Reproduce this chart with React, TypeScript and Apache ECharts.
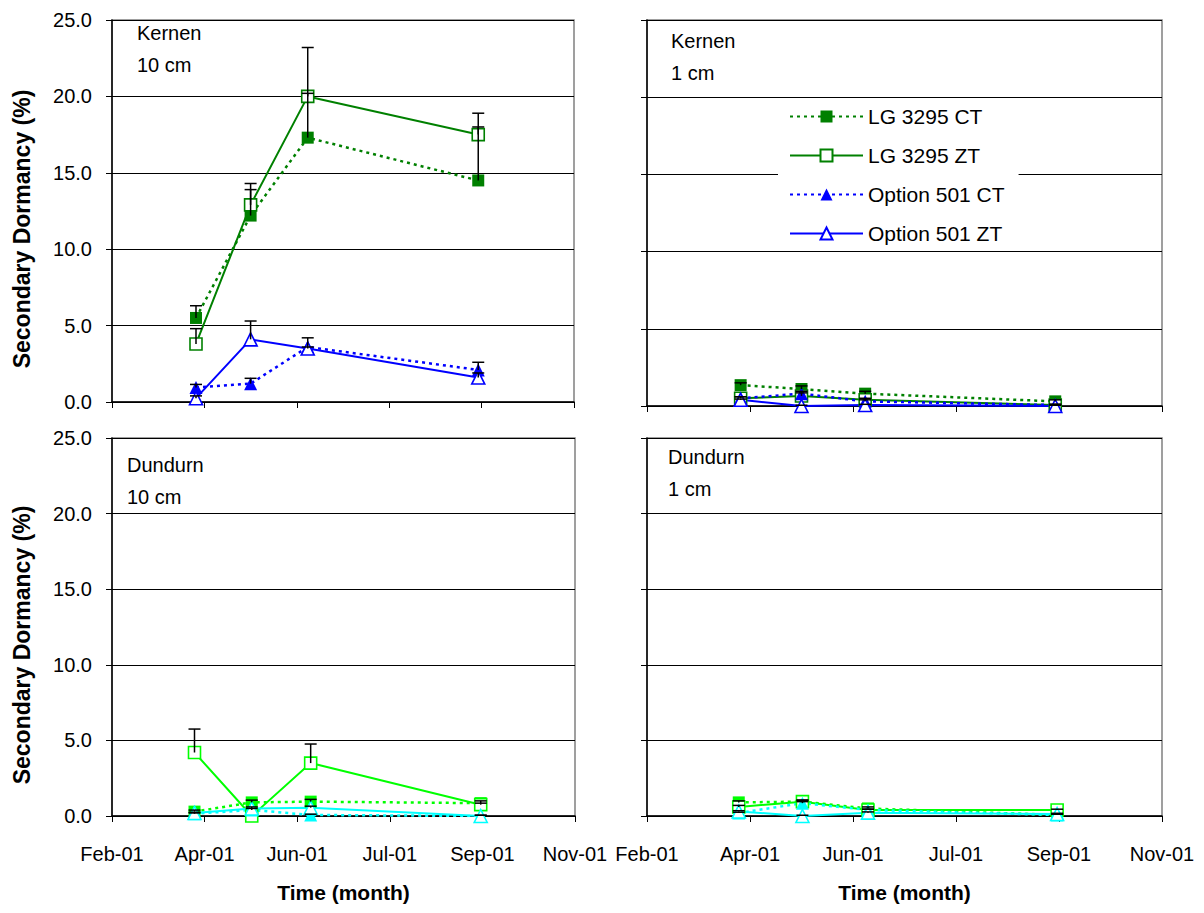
import React, { useEffect, useRef } from "react";
import * as echarts from "echarts";

// ---- axis labels ----
const xTickLabels = ["Feb-01", "Apr-01", "Jun-01", "Jul-01", "Sep-01", "Nov-01"];
const xTickStepDays = 55; // days between labelled ticks (axis starts mid-Feb 2001)
const yMax = 25;
const yStep = 5;

const seriesNames = ["LG 3295 CT", "LG 3295 ZT", "Option 501 CT", "Option 501 ZT"];

// sampling dates, days after axis start
const kernenDays = [50, 82.5, 116.5, 218];
const dundurnDays = [49, 83, 118, 219];

// ---- Kernen 10 cm ----
const k10LgCt = [5.5, 12.2, 17.3, 14.5];
const k10LgZt = [3.8, 12.9, 20.0, 17.5];
const k10OptCt = [0.95, 1.2, 3.6, 2.1];
const k10OptZt = [0.25, 4.1, 3.5, 1.6];
const k10LgCtErr = [0.8, 1.7, 2.9, 3.5];
const k10LgZtErr = [1.0, 1.4, 3.2, 1.4];
const k10OptCtErr = [0.2, 0.35, 0.6, 0.5];
const k10OptZtErr = [0.15, 1.2, 0.1, 0.3];

// ---- Kernen 1 cm ----
const k1LgCt = [1.35, 1.1, 0.8, 0.3];
const k1LgZt = [0.5, 0.65, 0.4, 0.06];
const k1OptCt = [0.5, 0.8, 0.3, 0.06];
const k1OptZt = [0.4, 0.0, 0.06, 0.0];
const k1LgCtErr = [0.15, 0.2, 0.15, 0.1];
const k1LgZtErr = [0.1, 0.2, 0.1, 0.05];
const k1OptCtErr = [0.1, 0.15, 0.1, 0.05];
const k1OptZtErr = [0.05, 0.05, 0.05, 0.05];

// ---- Dundurn 10 cm ----
const d10LgCt = [0.29, 0.9, 0.95, 0.85];
const d10LgZt = [4.2, 0.0, 3.5, 0.75];
const d10OptCt = [0.15, 0.4, 0.07, 0.0];
const d10OptZt = [0.2, 0.5, 0.55, 0.0];
const d10LgCtErr = [0.1, 0.15, 0.15, 0.15];
const d10LgZtErr = [1.55, 0.0, 1.26, 0.1];
const d10OptCtErr = [0.05, 0.1, 0.05, 0.05];
const d10OptZtErr = [0.05, 0.1, 0.1, 0.05];

// ---- Dundurn 1 cm ----
const d1LgCt = [0.9, 0.95, 0.5, 0.07];
const d1LgZt = [0.6, 0.95, 0.4, 0.4];
const d1OptCt = [0.2, 0.85, 0.4, 0.07];
const d1OptZt = [0.3, 0.0, 0.22, 0.13];
const d1LgCtErr = [0.1, 0.1, 0.1, 0.05];
const d1LgZtErr = [0.1, 0.1, 0.05, 0.05];
const d1OptCtErr = [0.05, 0.1, 0.05, 0.05];
const d1OptZtErr = [0.05, 0.05, 0.05, 0.05];

const FONT = "'Liberation Sans', Arial, Helvetica, sans-serif";

type Panel = {
  grid: { left: number; top: number; width: number; height: number };
  days: number[];
  values: number[][];
  errors: number[][];
  colors: string[];
  site: string;
  depth: string;
  textPos: [number, number, number];
  showYLabels: boolean;
  showXLabels: boolean;
};

const topColors = ["#008000", "#008000", "#0000FF", "#0000FF"];
const bottomColors = ["#00FF00", "#00FF00", "#00FFFF", "#00FFFF"];

const panels: Panel[] = [
  {
    grid: { left: 112, top: 20, width: 462, height: 382 },
    days: kernenDays,
    values: [k10LgCt, k10LgZt, k10OptCt, k10OptZt],
    errors: [k10LgCtErr, k10LgZtErr, k10OptCtErr, k10OptZtErr],
    colors: topColors,
    site: "Kernen",
    depth: "10 cm",
    textPos: [137, 33, 65],
    showYLabels: true,
    showXLabels: false,
  },
  {
    grid: { left: 647, top: 20, width: 515, height: 386 },
    days: kernenDays,
    values: [k1LgCt, k1LgZt, k1OptCt, k1OptZt],
    errors: [k1LgCtErr, k1LgZtErr, k1OptCtErr, k1OptZtErr],
    colors: topColors,
    site: "Kernen",
    depth: "1 cm",
    textPos: [671, 41, 73],
    showYLabels: false,
    showXLabels: false,
  },
  {
    grid: { left: 112, top: 438, width: 463, height: 378 },
    days: dundurnDays,
    values: [d10LgCt, d10LgZt, d10OptCt, d10OptZt],
    errors: [d10LgCtErr, d10LgZtErr, d10OptCtErr, d10OptZtErr],
    colors: bottomColors,
    site: "Dundurn",
    depth: "10 cm",
    textPos: [127, 465, 497],
    showYLabels: true,
    showXLabels: true,
  },
  {
    grid: { left: 647, top: 438, width: 515, height: 378 },
    days: dundurnDays,
    values: [d1LgCt, d1LgZt, d1OptCt, d1OptZt],
    errors: [d1LgCtErr, d1LgZtErr, d1OptCtErr, d1OptZtErr],
    colors: bottomColors,
    site: "Dundurn",
    depth: "1 cm",
    textPos: [668, 457, 489],
    showYLabels: false,
    showXLabels: true,
  },
];

const filled = [true, false, true, false];
const dotted = [true, false, true, false];
const symbols = ["rect", "rect", "triangle", "triangle"];

function buildOption() {
  const grids: any[] = [];
  const xAxes: any[] = [];
  const yAxes: any[] = [];
  const series: any[] = [];
  const graphics: any[] = [];

  panels.forEach((p, i) => {
    grids.push({
      ...p.grid,
      show: true,
      borderColor: "#808080",
      borderWidth: 1.5,
      backgroundColor: "#fff",
      containLabel: false,
    });
    xAxes.push({
      type: "value",
      gridIndex: i,
      min: 0,
      max: xTickStepDays * (xTickLabels.length - 1),
      interval: xTickStepDays,
      axisLine: { show: true, onZero: false, lineStyle: { color: "#000", width: 1.5 } },
      axisTick: { show: true, length: 6, lineStyle: { color: "#000", width: 1 } },
      axisLabel: {
        show: p.showXLabels,
        formatter: (v: number) => xTickLabels[Math.round(v / xTickStepDays)] ?? "",
        fontSize: 20,
        fontFamily: FONT,
        color: "#000",
        margin: 28,
        showMinLabel: true,
        showMaxLabel: true,
        hideOverlap: false,
      },
      splitLine: { show: false },
      name: p.showXLabels ? "Time (month)" : "",
      nameLocation: "middle",
      nameGap: 66,
      nameTextStyle: { fontWeight: "bold", fontSize: 21, fontFamily: FONT, color: "#000" },
    });
    yAxes.push({
      type: "value",
      gridIndex: i,
      min: 0,
      max: yMax,
      interval: yStep,
      axisLine: { show: true, lineStyle: { color: "#000", width: 1.5 } },
      axisTick: { show: true, length: 6, lineStyle: { color: "#000", width: 1 } },
      axisLabel: {
        show: p.showYLabels,
        formatter: (v: number) => v.toFixed(1),
        fontSize: 20,
        fontFamily: FONT,
        color: "#000",
        margin: 20,
      },
      splitLine: { show: true, lineStyle: { color: "#000", width: 1 } },
      name: p.showYLabels ? "Secondary Dormancy (%)" : "",
      nameLocation: "middle",
      nameGap: 79,
      nameTextStyle: {
        fontWeight: "bold",
        fontSize: 23,
        fontFamily: FONT,
        color: "#000",
        padding: [0, 36, 0, 0],
      },
    });

    p.values.forEach((vals, s) => {
      const color = p.colors[s];
      series.push({
        type: "line",
        name: seriesNames[s],
        xAxisIndex: i,
        yAxisIndex: i,
        data: p.days.map((d, j) => [d, vals[j]]),
        symbol: symbols[s],
        symbolSize: symbols[s] === "rect" ? 12 : 13,
        showAllSymbol: true,
        lineStyle: { color, width: dotted[s] ? 2.5 : 2, type: dotted[s] ? [3, 4] : "solid" },
        itemStyle: filled[s]
          ? { color, borderWidth: 0 }
          : { color: "#fff", borderColor: color, borderWidth: 1.6 },
        emphasis: { disabled: true },
        z: 2,
      });
    });

    const errData: number[][] = [];
    p.values.forEach((vals, s) => {
      vals.forEach((v, j) => {
        errData.push([p.days[j], v, p.errors[s][j]]);
      });
    });
    series.push({
      type: "custom",
      xAxisIndex: i,
      yAxisIndex: i,
      silent: true,
      z: 5,
      data: errData,
      encode: { x: 0, y: 1 },
      renderItem: (_params: any, api: any) => {
        const x = api.value(0);
        const y = api.value(1);
        const e = api.value(2);
        if (!e) return null;
        const p0 = api.coord([x, y]);
        const p1 = api.coord([x, y + e]);
        return {
          type: "group",
          children: [
            {
              type: "line",
              shape: { x1: p0[0], y1: p0[1], x2: p1[0], y2: p1[1] },
              style: { stroke: "#000", lineWidth: 1.5 },
            },
            {
              type: "line",
              shape: { x1: p1[0] - 6, y1: p1[1], x2: p1[0] + 6, y2: p1[1] },
              style: { stroke: "#000", lineWidth: 1.5 },
            },
          ],
        };
      },
    });

    graphics.push({
      type: "text",
      x: p.textPos[0],
      y: p.textPos[1],
      style: { text: p.site, fontSize: 20, fontFamily: FONT, fill: "#000", verticalAlign: "middle" },
      z: 10,
    });
    graphics.push({
      type: "text",
      x: p.textPos[0],
      y: p.textPos[2],
      style: { text: p.depth, fontSize: 20, fontFamily: FONT, fill: "#000", verticalAlign: "middle" },
      z: 10,
    });
  });

  return {
    animation: false,
    backgroundColor: "#fff",
    grid: grids,
    xAxis: xAxes,
    yAxis: yAxes,
    series,
    graphic: graphics,
    legend: {
      data: seriesNames,
      orient: "vertical",
      left: 778,
      top: 99,
      backgroundColor: "#fff",
      padding: [7, 14, 7, 11],
      itemWidth: 73,
      itemHeight: 15,
      itemGap: 18,
      selectedMode: false,
      textStyle: { fontSize: 21, fontFamily: FONT, color: "#000", lineHeight: 21 },
      z: 8,
    },
  };
}

export default function App() {
  const ref = useRef<HTMLDivElement>(null);
  useEffect(() => {
    if (!ref.current) return;
    const chart = echarts.init(ref.current, undefined, { renderer: "svg" });
    chart.setOption(buildOption() as any);
    return () => chart.dispose();
  }, []);
  return (
    <div
      ref={ref}
      style={{ position: "absolute", left: 0, top: 0, width: 1204, height: 913, background: "#fff" }}
    />
  );
}
